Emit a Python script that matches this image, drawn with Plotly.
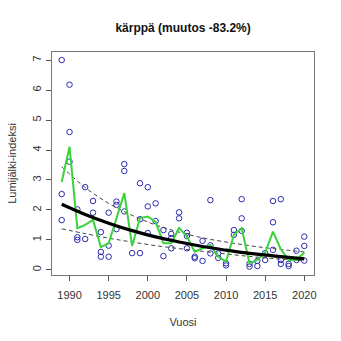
import plotly.graph_objects as go

# Individual observations (year, index value)
point_years = [1989, 1989, 1989,
               1990, 1990, 1990,
               1991, 1991, 1991,
               1992, 1992,
               1993, 1993,
               1994, 1994, 1994,
               1995, 1995, 1995,
               1996, 1996, 1996,
               1997, 1997, 1997,
               1998,
               1999, 1999, 1999,
               2000, 2000, 2000,
               2001, 2001,
               2002, 2002,
               2003, 2003, 2003,
               2004, 2004,
               2005, 2005, 2005,
               2006, 2006,
               2007, 2007,
               2008, 2008, 2008,
               2009, 2009,
               2010, 2010,
               2011, 2011,
               2012, 2012, 2012,
               2013, 2013,
               2014, 2014,
               2015, 2015,
               2016, 2016, 2016,
               2017, 2017, 2017,
               2018, 2018,
               2019, 2019,
               2020, 2020, 2020]
point_values = [7.0, 2.53, 1.66,
                6.18, 4.6, 3.61,
                2.02, 1.09, 1.0,
                2.76, 1.03,
                2.3, 1.91,
                1.26, 0.6, 0.44,
                1.91, 0.81, 0.44,
                2.28, 2.17, 1.36,
                3.53, 3.3, 1.95,
                0.56,
                2.89, 1.69, 0.56,
                2.76, 2.12, 1.23,
                2.22, 1.63,
                1.33, 0.46,
                1.2, 1.06, 0.72,
                1.92, 1.72,
                1.24, 1.13, 0.72,
                0.44, 0.39,
                0.97, 0.3,
                2.33, 0.82, 0.55,
                0.55, 0.4,
                0.22, 0.15,
                1.33, 1.17,
                2.36, 1.72, 1.3,
                0.2, 0.11,
                0.13, 0.3,
                0.56, 0.33,
                2.3, 1.59, 0.67,
                2.36, 0.33, 0.2,
                0.2, 0.13,
                0.64, 0.33,
                1.11, 0.8, 0.31]

# Yearly index (green line)
years = list(range(1989, 2021))
yearly_index = [2.93, 4.11, 1.39, 1.5, 1.67, 0.76, 0.89, 1.75, 2.56, 0.8,
                1.73, 1.78, 1.6, 0.89, 0.89, 1.4, 1.11, 0.61, 0.72, 0.83,
                0.44, 0.28, 1.17, 1.39, 0.22, 0.33, 0.58, 1.28, 0.69, 0.33,
                0.33, 0.58]

# Trend and its confidence band
trend_years = [1989, 1992, 1995, 1998, 2001, 2004, 2007, 2010, 2013, 2016, 2020]
trend_values = [2.19, 1.85, 1.56, 1.31, 1.10, 0.93, 0.78, 0.66, 0.55, 0.47, 0.37]
upper_values = [3.44, 2.75, 2.22, 1.82, 1.5, 1.26, 1.07, 0.93, 0.81, 0.71, 0.6]
lower_values = [1.37, 1.21, 1.06, 0.93, 0.81, 0.71, 0.62, 0.53, 0.45, 0.38, 0.3]

x_ticks = [1990, 1995, 2000, 2005, 2010, 2015, 2020]
y_ticks = [0, 1, 2, 3, 4, 5, 6, 7]

fig = go.Figure()
fig.add_trace(go.Scatter(x=point_years, y=point_values, mode="markers",
                         marker=dict(symbol="circle-open", size=5.5, color="#2b2bb0",
                                     line=dict(width=1, color="#2b2bb0")),
                         showlegend=False))
for band in (upper_values, lower_values):
    fig.add_trace(go.Scatter(x=trend_years, y=band, mode="lines",
                             line=dict(color="#444444", width=1, dash="4px,3px", shape="spline"),
                             showlegend=False))
fig.add_trace(go.Scatter(x=years, y=yearly_index, mode="lines",
                         line=dict(color="#3ad23a", width=2), showlegend=False))
fig.add_trace(go.Scatter(x=trend_years, y=trend_values, mode="lines",
                         line=dict(color="black", width=3.2, shape="spline"),
                         showlegend=False))

axis_font = dict(family="Liberation Sans, Arial, sans-serif", size=11, color="#333333")
fig.update_layout(
    width=341, height=341,
    margin=dict(l=52, r=27, t=52, b=66),
    plot_bgcolor="white", paper_bgcolor="white",
    title=dict(text="<b>kärppä (muutos -83.2%)</b>", x=0.537, xanchor="center",
               y=0.918, yanchor="middle",
               font=dict(family="Liberation Sans, Arial, sans-serif", size=12, color="#111111")),
    xaxis=dict(range=[1987.76, 2021.24], tickvals=x_ticks, ticks="outside", ticklen=5,
               tickcolor="#555555", showline=True, linecolor="#777777", linewidth=1.3,
               mirror=True, showgrid=False, zeroline=False, tickfont=axis_font,
               ticklabelstandoff=5,
               title=dict(text="Vuosi", font=axis_font, standoff=17)),
    yaxis=dict(range=[-0.17, 7.27], tickvals=y_ticks, ticks="outside", ticklen=5,
               tickcolor="#555555", showline=True, linecolor="#777777", linewidth=1.3,
               mirror=True, showgrid=False, zeroline=False, tickfont=axis_font,
               tickangle=-90,
               title=dict(text="Lumijälki-indeksi", font=axis_font, standoff=12)),
)
fig.write_html("out.html")
